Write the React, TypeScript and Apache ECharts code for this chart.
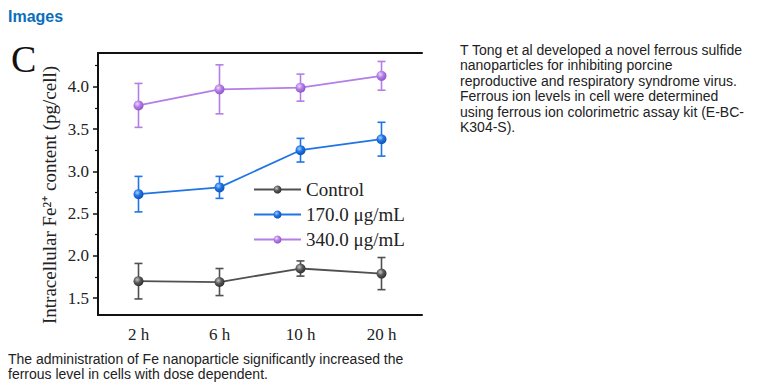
import React, { useEffect, useRef } from "react";
import * as echarts from "echarts";

const categories = ["2 h", "6 h", "10 h", "20 h"];
const seriesNames = ["Control", "170.0 μg/mL", "340.0 μg/mL"];
const controlMean = [1.7, 1.69, 1.85, 1.79];
const controlErr = [0.21, 0.16, 0.09, 0.19];
const dose170Mean = [2.73, 2.81, 3.25, 3.38];
const dose170Err = [0.21, 0.13, 0.14, 0.2];
const dose340Mean = [3.78, 3.97, 3.99, 4.13];
const dose340Err = [0.26, 0.29, 0.16, 0.17];
const yTickValues = [1.5, 2.0, 2.5, 3.0, 3.5, 4.0];
const yMinorValues = [1.75, 2.25, 2.75, 3.25, 3.75, 4.25];

const colors = [
  { line: "#505050", light: "#c8c8c8", base: "#5a5a5a", dark: "#2a2a2a" },
  { line: "#1f74e6", light: "#a9cdff", base: "#1f74e6", dark: "#0b4fb0" },
  { line: "#b47ee6", light: "#ecd9ff", base: "#b47ee6", dark: "#8a52c4" },
];

const means = [controlMean, dose170Mean, dose340Mean];
const errs = [controlErr, dose170Err, dose340Err];

const serif = '"Liberation Serif", "Times New Roman", serif';
const sans = '"Liberation Sans", Arial, sans-serif';

export default function App() {
  const ref = useRef<HTMLDivElement>(null);
  useEffect(() => {
    if (!ref.current) return;
    const chart = echarts.init(ref.current, undefined, { renderer: "svg" });
    const lineSeries: any[] = seriesNames.map((name, i) => ({
      name,
      type: "line",
      data: means[i],
      symbol: "circle",
      symbolSize: 10,
      z: 5,
      lineStyle: { color: colors[i].line, width: 1.8 },
      itemStyle: {
        color: {
          type: "radial",
          x: 0.38,
          y: 0.35,
          r: 0.7,
          colorStops: [
            { offset: 0, color: colors[i].light },
            { offset: 0.45, color: colors[i].base },
            { offset: 1, color: colors[i].dark },
          ],
        },
        borderWidth: 0,
      },
    }));
    const errSeries: any[] = seriesNames.map((name, i) => ({
      type: "custom",
      name: name + "_err",
      z: 3,
      data: means[i].map((m, j) => [j, m - errs[i][j], m + errs[i][j]]),
      encode: { x: 0, y: [1, 2] },
      renderItem: (params: any, api: any) => {
        const x = api.value(0);
        const lo = api.coord([x, api.value(1)]);
        const hi = api.coord([x, api.value(2)]);
        const cw = 4;
        const style = { stroke: colors[i].line, lineWidth: 1.6 };
        return {
          type: "group",
          children: [
            { type: "line", shape: { x1: lo[0], y1: lo[1], x2: hi[0], y2: hi[1] }, style },
            { type: "line", shape: { x1: lo[0] - cw, y1: lo[1], x2: lo[0] + cw, y2: lo[1] }, style },
            { type: "line", shape: { x1: hi[0] - cw, y1: hi[1], x2: hi[0] + cw, y2: hi[1] }, style },
          ],
        };
      },
    }));

    chart.setOption({
      animation: false,
      grid: { left: 98, right: 336, top: 53, bottom: 75 },
      legend: {
        data: seriesNames,
        orient: "vertical",
        left: 248,
        top: 175,
        itemWidth: 47,
        itemHeight: 10,
        itemGap: 6,
        textStyle: { fontFamily: serif, fontSize: 19, color: "#222" },
      },
      xAxis: [
        {
          type: "category",
          data: categories,
          boundaryGap: true,
          position: "bottom",
          axisLine: { lineStyle: { color: "#111", width: 2 } },
          axisTick: { alignWithLabel: true, inside: false, length: 5, lineStyle: { color: "#111", width: 1.5 } },
          axisLabel: { fontFamily: serif, fontSize: 17, color: "#222", margin: 11 },
        },
        {
          type: "category",
          data: categories,
          position: "top",
          axisLine: { lineStyle: { color: "#111", width: 2 } },
          axisTick: { show: false },
          axisLabel: { show: false },
        },
      ],
      yAxis: [
        {
          type: "value",
          min: 1.3,
          max: 4.4,
          axisLine: { show: true, lineStyle: { color: "#111", width: 2 } },
          axisTick: { show: true, length: 5, customValues: yTickValues, lineStyle: { color: "#111", width: 1.5 } },
          axisLabel: {
            customValues: yTickValues,
            formatter: (v: number) => v.toFixed(1),
            fontFamily: serif,
            fontSize: 17,
            color: "#222",
            margin: 9,
          },
          splitLine: { show: false },
        },
        {
          type: "value",
          min: 1.3,
          max: 4.4,
          position: "left",
          axisLine: { show: false },
          axisTick: { show: true, length: 3, customValues: yMinorValues, lineStyle: { color: "#111", width: 1.2 } },
          axisLabel: { show: false },
          splitLine: { show: false },
        },
      ],
      graphic: [
        {
          type: "text",
          left: 8,
          top: 8,
          style: { text: "Images", fontFamily: sans, fontSize: 16, fontWeight: "bold", fill: "#0a6ebd" },
        },
        {
          type: "text",
          left: 11,
          top: 40,
          style: { text: "C", fontFamily: serif, fontSize: 38, fill: "#111" },
        },
        {
          type: "text",
          x: 49,
          y: 195,
          rotation: Math.PI / 2,
          style: {
            text: "Intracellular Fe²⁺ content (pg/cell)",
            fontFamily: serif,
            fontSize: 19,
            fill: "#222",
            align: "center",
            verticalAlign: "middle",
          },
        },
        {
          type: "text",
          left: 460,
          top: 42,
          style: {
            text:
              "T Tong et al developed a novel ferrous sulfide\nnanoparticles for inhibiting porcine\nreproductive and respiratory syndrome virus.\nFerrous ion levels in cell were determined\nusing ferrous ion colorimetric assay kit (E-BC-\nK304-S).",
            fontFamily: sans,
            fontSize: 14,
            lineHeight: 15.5,
            fill: "#222",
          },
        },
        {
          type: "text",
          left: 8,
          top: 351,
          style: {
            text:
              "The administration of Fe nanoparticle significantly increased the\nferrous level in cells with dose dependent.",
            fontFamily: sans,
            fontSize: 14,
            lineHeight: 15.5,
            fill: "#222",
          },
        },
      ],
      series: [...errSeries, ...lineSeries],
    });
    return () => chart.dispose();
  }, []);
  return (
    <div
      ref={ref}
      style={{ position: "absolute", left: 0, top: 0, width: 758, height: 390, background: "#fff" }}
    />
  );
}
